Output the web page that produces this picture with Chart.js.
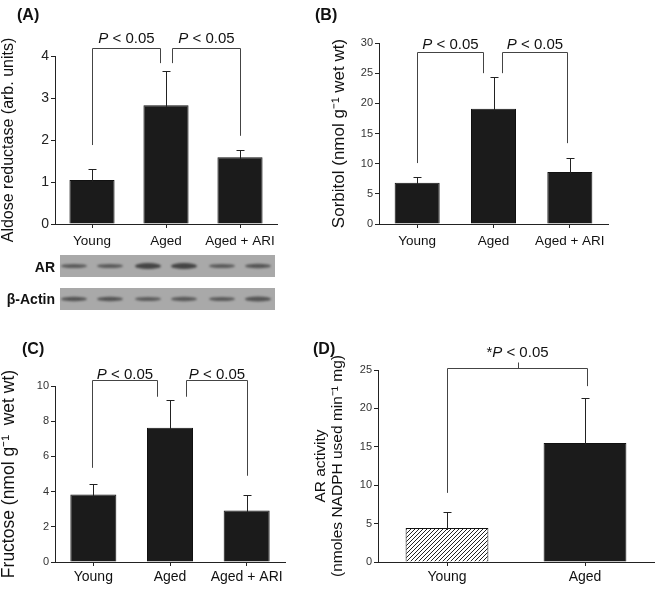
<!DOCTYPE html>
<html>
<head>
<meta charset="utf-8">
<script src="https://cdn.jsdelivr.net/npm/chart.js@4.4.1/dist/chart.umd.min.js"></script>
<style>
  body { margin: 0; background: #fff; }
  #wrap { position: relative; width: 661px; height: 593px; font-family: "Liberation Sans", Arial, sans-serif; }
  #wrap canvas, .lbl { position: absolute; }
  .lbl { font-weight: bold; color: #111; white-space: nowrap; }
</style>
</head>
<body>
<div id="wrap">
  <canvas id="chartA" width="330" height="250" style="left:0;top:0"></canvas>
  <canvas id="chartB" width="331" height="250" style="left:330px;top:0"></canvas>
  <canvas id="blot" width="330" height="62" style="left:0;top:250px"></canvas>
  <canvas id="chartC" width="330" height="283" style="left:0;top:310px"></canvas>
  <canvas id="chartD" width="351" height="283" style="left:310px;top:310px"></canvas>

  <div class="lbl" style="left:17px;top:6px;font-size:16px">(A)</div>
  <div class="lbl" style="left:315px;top:6px;font-size:16px">(B)</div>
  <div class="lbl" style="left:22px;top:340px;font-size:16px">(C)</div>
  <div class="lbl" style="left:313px;top:340px;font-size:16px">(D)</div>
  <div class="lbl" style="left:0;width:55px;text-align:right;top:259px;font-size:14px">AR</div>
  <div class="lbl" style="left:0;width:55px;text-align:right;top:291px;font-size:14px">β-Actin</div>
</div>

<script>
// Data
const groups3 = ["Young", "Aged", "Aged + ARI"];
const groups2 = ["Young", "Aged"];

const aldoseMean = [1.05, 2.83, 1.59];
const aldoseErr = [0.27, 0.82, 0.17];

const sorbitolMean = [6.85, 19.1, 8.6];
const sorbitolErr = [1.0, 5.2, 2.3];

const fructoseMean = [3.83, 7.63, 2.92];
const fructoseErr = [0.61, 1.6, 0.91];

const activityMean = [4.43, 15.5];
const activityErr = [2.05, 5.9];

// significance brackets: [from group, to group, left leg end, right leg end, top]
const aldoseBrackets = [[0, 1, 1.88, 3.83, 4.19], [1, 2, 3.83, 2.1, 4.19]];
const sorbitolBrackets = [[0, 1, 10.1, 25.0, 28.5], [1, 2, 25.0, 13.4, 28.5]];
const fructoseBrackets = [[0, 1, 5.35, 9.39, 10.36], [1, 2, 9.39, 4.9, 10.36]];
const activityBrackets = [[0, 1, 9.0, 22.9, 25.2]];

const FAMILY = '"Liberation Sans", Arial, sans-serif';
Chart.defaults.font.family = FAMILY;

// "P < 0.05" with an italic P
function drawPLabel(ctx, text, cx, baseY) {
  const k = text.indexOf("P");
  const pre = text.slice(0, k), rest = text.slice(k + 1);
  const norm = "15px " + FAMILY, ital = "italic 15px " + FAMILY;
  ctx.font = norm;
  const w1 = ctx.measureText(pre).width, w3 = ctx.measureText(rest).width;
  ctx.font = ital;
  const w2 = ctx.measureText("P").width;
  let x = cx - (w1 + w2 + w3) / 2;
  ctx.textAlign = "left";
  ctx.textBaseline = "alphabetic";
  ctx.fillStyle = "#111";
  ctx.font = norm; ctx.fillText(pre, x, baseY); x += w1;
  ctx.font = ital; ctx.fillText("P", x, baseY); x += w2;
  ctx.font = norm; ctx.fillText(rest, x, baseY);
}

function errorBarPlugin(errs, cap) {
  return {
    id: "errorBars",
    afterDatasetsDraw(chart) {
      const ctx = chart.ctx, y = chart.scales.y;
      const vals = chart.data.datasets[0].data;
      ctx.save();
      ctx.strokeStyle = "#222";
      ctx.lineWidth = 1;
      chart.getDatasetMeta(0).data.forEach((bar, i) => {
        const x = Math.round(bar.x) + 0.5;
        const top = Math.round(y.getPixelForValue(vals[i] + errs[i])) + 0.5;
        ctx.beginPath();
        ctx.moveTo(x, bar.y + 2);
        ctx.lineTo(x, top);
        ctx.moveTo(x - cap, top);
        ctx.lineTo(x + cap, top);
        ctx.stroke();
      });
      ctx.restore();
    }
  };
}

function bracketPlugin(items, style) {
  return {
    id: "brackets",
    afterDraw(chart) {
      const ctx = chart.ctx, xs = chart.scales.x, ys = chart.scales.y;
      ctx.save();
      ctx.strokeStyle = "#444";
      ctx.lineWidth = 1;
      items.forEach((b, k) => {
        const off = style.offsets[k];
        const x1 = Math.round(xs.getPixelForValue(b[0]) + off[0]) + 0.5;
        const x2 = Math.round(xs.getPixelForValue(b[1]) + off[1]) + 0.5;
        const yt = Math.round(ys.getPixelForValue(b[4])) + 0.5;
        ctx.beginPath();
        ctx.moveTo(x1, ys.getPixelForValue(b[2]));
        ctx.lineTo(x1, yt);
        ctx.lineTo(x2, yt);
        ctx.lineTo(x2, ys.getPixelForValue(b[3]));
        const mid = Math.round((x1 + x2) / 2) + 0.5;
        if (style.centerTick) {
          ctx.moveTo(mid, yt);
          ctx.lineTo(mid, yt - style.centerTick);
        }
        ctx.stroke();
        drawPLabel(ctx, style.label, (x1 + x2) / 2, yt - style.gap);
      });
      ctx.restore();
    }
  };
}

function makePanel(id, labels, means, errs, brackets, cfg) {
  const canvas = document.getElementById(id);
  const W = canvas.width, H = canvas.height, box = cfg.box;
  return new Chart(canvas, {
    type: "bar",
    data: {
      labels: labels,
      datasets: [{
        data: means,
        backgroundColor: cfg.colors,
        borderColor: "#111",
        borderWidth: 1,
        barPercentage: cfg.barPct,
        categoryPercentage: 1
      }]
    },
    options: {
      responsive: false,
      animation: false,
      layout: { padding: { top: box.top, right: W - box.right, bottom: 0, left: 0 } },
      plugins: { legend: { display: false }, tooltip: { enabled: false } },
      scales: {
        x: {
          grid: { display: true, drawOnChartArea: false, offset: false, tickLength: 4, color: "#222" },
          border: { color: "#222" },
          ticks: { font: { size: cfg.xFont }, color: "#111", padding: cfg.xPad, maxRotation: 0 },
          afterFit(s) { s.height = H - box.bottom; }
        },
        y: {
          min: 0,
          max: cfg.yMax,
          ticks: { stepSize: cfg.step, font: { size: cfg.yFont }, color: cfg.yColor, padding: 2 },
          grid: { drawOnChartArea: false, tickLength: 4, color: "#222" },
          border: { color: "#222" },
          title: {
            display: true,
            text: cfg.title,
            font: { size: cfg.titleFont, lineHeight: 1.05 },
            color: "#111",
            padding: { top: cfg.titlePad, bottom: 0 }
          },
          afterFit(s) { s.width = box.left; }
        }
      }
    },
    plugins: [errorBarPlugin(errs, cfg.cap), bracketPlugin(brackets, cfg.brackets)]
  });
}

// diagonal hatch for the Young bar in (D)
function hatchPattern() {
  const c = document.createElement("canvas");
  c.width = 4; c.height = 4;
  const g = c.getContext("2d");
  g.fillStyle = "#fff";
  g.fillRect(0, 0, 4, 4);
  g.strokeStyle = "#222";
  g.lineWidth = 1;
  g.beginPath();
  g.moveTo(0, 4); g.lineTo(4, 0);
  g.moveTo(-1, 1); g.lineTo(1, -1);
  g.moveTo(3, 5); g.lineTo(5, 3);
  g.stroke();
  return g.createPattern(c, "repeat");
}

const BAR = "#1b1b1b";

const chartA = makePanel("chartA", groups3, aldoseMean, aldoseErr, aldoseBrackets, {
  box: { left: 55, right: 277, top: 56, bottom: 224 },
  colors: BAR, barPct: 0.61, yMax: 4, step: 1,
  yFont: 14, yColor: "#222", xFont: 13.5, xPad: 5, cap: 4,
  title: "Aldose reductase (arb. units)", titleFont: 16, titlePad: 0,
  brackets: { offsets: [[0, -6], [6, 0]], label: "P < 0.05", gap: 6 }
});

makePanel("chartB", groups3, sorbitolMean, sorbitolErr, sorbitolBrackets, {
  box: { left: 49, right: 278, top: 43, bottom: 224 },
  colors: BAR, barPct: 0.59, yMax: 30, step: 5,
  yFont: 11, yColor: "#333", xFont: 13.5, xPad: 5, cap: 4,
  title: "Sorbitol (nmol g⁻¹ wet wt)", titleFont: 17, titlePad: 0,
  brackets: { offsets: [[0, -11], [8, -3]], label: "P < 0.05", gap: 4 }
});

makePanel("chartC", groups3, fructoseMean, fructoseErr, fructoseBrackets, {
  box: { left: 55, right: 285, top: 76, bottom: 252 },
  colors: BAR, barPct: 0.6, yMax: 10, step: 2,
  yFont: 11, yColor: "#333", xFont: 14, xPad: 3, cap: 4,
  title: "Fructose (nmol g⁻¹  wet wt)", titleFont: 17.5, titlePad: 0,
  brackets: { offsets: [[-1, -13], [16, 0]], label: "P < 0.05", gap: 2 }
});

makePanel("chartD", groups2, activityMean, activityErr, activityBrackets, {
  box: { left: 68, right: 344, top: 60, bottom: 252 },
  colors: [hatchPattern(), BAR], barPct: 0.6, yMax: 25, step: 5,
  yFont: 11, yColor: "#333", xFont: 14, xPad: 3, cap: 4,
  title: ["AR activity", "(nmoles NADPH used min⁻¹ mg)"], titleFont: 15.5, titlePad: 3,
  brackets: { offsets: [[0, 2]], label: "*P < 0.05", gap: 12, centerTick: 6 }
});

// western blot strips under (A), lanes follow the group positions of chart A
(function drawBlot() {
  const g = document.getElementById("blot").getContext("2d");
  const xs = chartA.scales.x;
  const lanes = [];
  groups3.forEach((_, i) => {
    const c = xs.getPixelForValue(i);
    lanes.push(c - 18, c + 18);
  });
  const rows = [
    { y0: 5, h: 22, thick: [4, 4, 6, 6, 4, 4.5], tone: ["#5a5a5a", "#5a5a5a", "#444", "#444", "#5a5a5a", "#555"] },
    { y0: 38, h: 22, thick: [4.5, 4.5, 4, 4.5, 4, 5], tone: ["#555", "#555", "#5c5c5c", "#5a5a5a", "#5a5a5a", "#555"] }
  ];
  rows.forEach(r => {
    g.filter = "none";
    g.fillStyle = "#a9a9a9";
    g.fillRect(60, r.y0, 215, r.h);
    g.filter = "blur(1px)";
    lanes.forEach((cx, i) => {
      g.fillStyle = r.tone[i];
      g.beginPath();
      g.ellipse(cx, r.y0 + r.h / 2, 13, r.thick[i] / 2, 0, 0, Math.PI * 2);
      g.fill();
    });
  });
  g.filter = "none";
})();
</script>
</body>
</html>
